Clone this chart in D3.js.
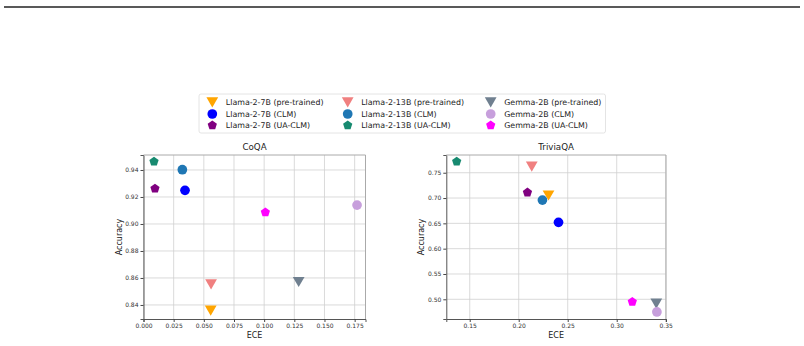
<!DOCTYPE html>
<html>
<head>
<meta charset="utf-8">
<script src="https://cdn.jsdelivr.net/npm/d3@7"></script>
<style>
  body { margin: 0; background: #fff; }
  svg { font-family: "DejaVu Sans", sans-serif; }
  .grid line { stroke: #d0d0d0; stroke-width: 0.8; }
  .tick text { fill: #333; }
</style>
</head>
<body>
<svg width="804" height="346"></svg>
<script>
// legend order: model x method
const labels = [
  "Llama-2-7B (pre-trained)", "Llama-2-7B (CLM)", "Llama-2-7B (UA-CLM)",
  "Llama-2-13B (pre-trained)", "Llama-2-13B (CLM)", "Llama-2-13B (UA-CLM)",
  "Gemma-2B (pre-trained)", "Gemma-2B (CLM)", "Gemma-2B (UA-CLM)"
];
const shapes = ["tri", "circle", "penta", "tri", "circle", "penta", "tri", "circle", "penta"];
const colors = ["#ffa500", "#0000ff", "#800080", "#f08080", "#1f77b4", "#178a70", "#708090", "#c79fdc", "#ff00ff"];

const coqaEce = [0.0557, 0.0344, 0.0095, 0.0560, 0.0322, 0.0087, 0.1286, 0.1770, 0.1010];
const coqaAcc = [0.8358, 0.9249, 0.9262, 0.8552, 0.9402, 0.9462, 0.8570, 0.9140, 0.9087];
const triviaEce = [0.2304, 0.2406, 0.2089, 0.2133, 0.2242, 0.1367, 0.3404, 0.3410, 0.3159];
const triviaAcc = [0.7050, 0.6520, 0.7110, 0.7620, 0.6960, 0.7720, 0.4916, 0.4750, 0.4950];

const coqaXTicks = [0, 0.025, 0.05, 0.075, 0.1, 0.125, 0.15, 0.175];
const coqaYTicks = [0.84, 0.86, 0.88, 0.90, 0.92, 0.94];
const triviaXTicks = [0.15, 0.2, 0.25, 0.3, 0.35];
const triviaYTicks = [0.50, 0.55, 0.60, 0.65, 0.70, 0.75];

const svg = d3.select("svg");

// rule across the top
svg.append("line")
  .attr("x1", 4).attr("x2", 800).attr("y1", 7).attr("y2", 7)
  .attr("stroke", "#222").attr("stroke-width", 1.6);

const pentagon = {
  draw(ctx, size) {
    const r = Math.sqrt(size / 2.38);
    for (let i = 0; i < 5; i++) {
      const a = -Math.PI / 2 + i * 2 * Math.PI / 5;
      if (i === 0) ctx.moveTo(r * Math.cos(a), r * Math.sin(a));
      else ctx.lineTo(r * Math.cos(a), r * Math.sin(a));
    }
    ctx.closePath();
  }
};
const triDown = {
  draw(ctx, size) {
    const h = Math.sqrt(size * 4 / Math.sqrt(3)) * Math.sqrt(3) / 2;
    const w = h * 2 / Math.sqrt(3);
    ctx.moveTo(-w / 2, -h / 2);
    ctx.lineTo(w / 2, -h / 2);
    ctx.lineTo(0, h / 2);
    ctx.closePath();
  }
};
function symbolFor(s) {
  if (s === "tri") return d3.symbol(triDown, 60)();
  if (s === "circle") return d3.symbol(d3.symbolCircle, 74)();
  return d3.symbol(pentagon, 56)();
}

function panel(cfg) {
  const x = d3.scaleLinear().domain(cfg.xDom).range([cfg.left, cfg.right]);
  const y = d3.scaleLinear().domain(cfg.yDom).range([cfg.bottom, cfg.top]);
  const g = svg.append("g");

  g.append("g").attr("class", "grid")
    .selectAll("line.v").data(cfg.xTicks).join("line")
    .attr("x1", d => x(d)).attr("x2", d => x(d))
    .attr("y1", cfg.top).attr("y2", cfg.bottom);
  g.append("g").attr("class", "grid")
    .selectAll("line.h").data(cfg.yTicks).join("line")
    .attr("x1", cfg.left).attr("x2", cfg.right)
    .attr("y1", d => y(d)).attr("y2", d => y(d));

  const xAxis = g.append("g").attr("transform", `translate(0,${cfg.bottom})`)
    .call(d3.axisBottom(x).tickValues(cfg.xTicks).tickFormat(d3.format(cfg.xFmt)).tickSize(3).tickPadding(2));
  const yAxis = g.append("g").attr("transform", `translate(${cfg.left},0)`)
    .call(d3.axisLeft(y).tickValues(cfg.yTicks).tickFormat(d3.format(".2f")).tickSize(3).tickPadding(2));
  [xAxis, yAxis].forEach(a => {
    a.selectAll("text").attr("font-size", 6).attr("font-family", "DejaVu Sans");
    a.selectAll("line").attr("stroke", "#444");
    a.select(".domain").attr("stroke", "#555");
  });

  // top and right frame
  g.append("path")
    .attr("d", `M${cfg.left},${cfg.top}H${cfg.right}V${cfg.bottom}`)
    .attr("fill", "none").attr("stroke", "#aaa").attr("stroke-width", 1);

  g.append("text").attr("x", (cfg.left + cfg.right) / 2).attr("y", cfg.top - 5)
    .attr("text-anchor", "middle").attr("font-size", 8.7).attr("fill", "#222").text(cfg.title);
  g.append("text").attr("x", (cfg.left + cfg.right) / 2).attr("y", cfg.bottom + 19)
    .attr("text-anchor", "middle").attr("font-size", 8).attr("fill", "#222").text("ECE");
  g.append("text")
    .attr("transform", `translate(${cfg.left - 22},${(cfg.top + cfg.bottom) / 2}) rotate(-90)`)
    .attr("text-anchor", "middle").attr("font-size", 8).attr("fill", "#222").text("Accuracy");

  g.append("g").selectAll("path").data(labels.map((l, i) => i)).join("path")
    .attr("transform", i => `translate(${x(cfg.ece[i])},${y(cfg.acc[i])})`)
    .attr("d", i => symbolFor(shapes[i]))
    .attr("fill", i => colors[i]);
}

panel({
  title: "CoQA", left: 143.5, right: 365.5, top: 155, bottom: 319,
  xDom: [0.0, 0.184], yDom: [0.8296, 0.9511],
  xTicks: coqaXTicks, yTicks: coqaYTicks, xFmt: ".3f",
  ece: coqaEce, acc: coqaAcc
});
panel({
  title: "TriviaQA", left: 446.3, right: 666, top: 155, bottom: 319,
  xDom: [0.1261, 0.3503], yDom: [0.4611, 0.785],
  xTicks: triviaXTicks, yTicks: triviaYTicks, xFmt: ".2f",
  ece: triviaEce, acc: triviaAcc
});

// legend
const leg = svg.append("g");
leg.append("rect").attr("x", 199).attr("y", 94).attr("width", 406.5).attr("height", 39)
  .attr("rx", 2).attr("fill", "#fff").attr("stroke", "#ddd").attr("stroke-width", 0.8);
const colX = [212.3, 347.7, 490.7];
const rowY = [102.3, 114, 125.3];
labels.forEach((l, i) => {
  const c = Math.floor(i / 3), r = i % 3;
  leg.append("path").attr("transform", `translate(${colX[c]},${rowY[r]})`)
    .attr("d", symbolFor(shapes[i])).attr("fill", colors[i]);
  leg.append("text").attr("x", colX[c] + 13.5).attr("y", rowY[r] + 3)
    .attr("font-size", 7.9).attr("fill", "#222").text(l);
});
</script>
</body>
</html>
